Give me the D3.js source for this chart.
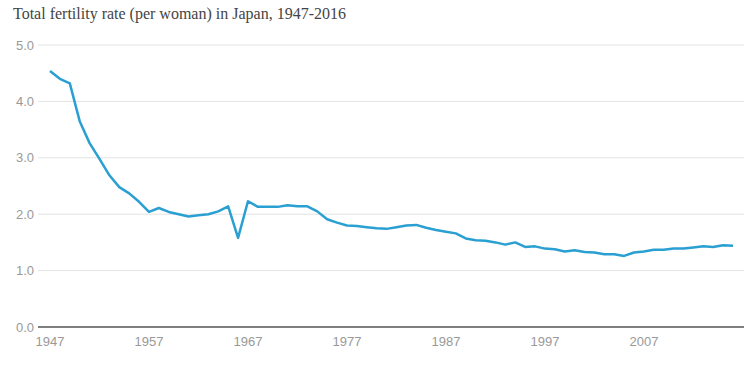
<!DOCTYPE html>
<html>
<head>
<meta charset="utf-8">
<script src="https://cdn.jsdelivr.net/npm/d3@7"></script>
<style>
    body { margin: 0; background: #fff; }
    .title { font-family: "Liberation Serif", "Times New Roman", serif; font-size: 16px; fill: #444; }
    .axis text { font-family: "Liberation Sans", Arial, sans-serif; font-size: 13px; fill: #999; }
</style>
</head>
<body>
<div id="chart"></div>
<script>
// data
let years = d3.range(1947, 2017);
let tfr = [4.54, 4.40, 4.32, 3.65, 3.26, 2.98, 2.69, 2.48, 2.37, 2.22,
    2.04, 2.11, 2.04, 2.00, 1.96, 1.98, 2.00, 2.05, 2.14, 1.58,
    2.23, 2.13, 2.13, 2.13, 2.16, 2.14, 2.14, 2.05, 1.91, 1.85,
    1.80, 1.79, 1.77, 1.75, 1.74, 1.77, 1.80, 1.81, 1.76, 1.72,
    1.69, 1.66, 1.57, 1.54, 1.53, 1.50, 1.46, 1.50, 1.42, 1.43,
    1.39, 1.38, 1.34, 1.36, 1.33, 1.32, 1.29, 1.29, 1.26, 1.32,
    1.34, 1.37, 1.37, 1.39, 1.39, 1.41, 1.43, 1.42, 1.45, 1.44];
let yTicks = [0, 1, 2, 3, 4, 5];
let xTicks = [1947, 1957, 1967, 1977, 1987, 1997, 2007];

let data = years.map((y, i) => ({year: y, value: tfr[i]}));

let width = 750, height = 368;

let svg = d3.select("#chart").append("svg")
    .attr("width", width)
    .attr("height", height);

svg.append("text")
    .attr("class", "title")
    .attr("x", 13)
    .attr("y", 19)
    .text("Total fertility rate (per woman) in Japan, 1947-2016");

// scales
let x = d3.scaleLinear()
    .domain([1947, 2016])
    .range([50, 733]);

let y = d3.scaleLinear()
    .domain([0, 5])
    .range([327, 45]);

// gridlines + y labels
let yAxis = svg.append("g").attr("class", "axis");

yAxis.selectAll(".grid")
    .data(yTicks.filter(d => d > 0))
    .enter()
    .append("line")
    .attr("class", "grid")
    .attr("x1", 38)
    .attr("x2", 744)
    .attr("y1", d => y(d))
    .attr("y2", d => y(d))
    .attr("stroke", "#e3e3e3")
    .attr("stroke-width", 1);

yAxis.selectAll(".ylab")
    .data(yTicks)
    .enter()
    .append("text")
    .attr("class", "ylab")
    .attr("x", 34)
    .attr("y", d => y(d))
    .attr("dy", "0.35em")
    .attr("text-anchor", "end")
    .text(d => d3.format(".1f")(d));

// baseline
svg.append("line")
    .attr("x1", 38)
    .attr("x2", 744)
    .attr("y1", y(0))
    .attr("y2", y(0))
    .attr("stroke", "#555")
    .attr("stroke-width", 1.5);

// x labels
let xAxis = svg.append("g").attr("class", "axis");
xAxis.selectAll(".xlab")
    .data(xTicks)
    .enter()
    .append("text")
    .attr("class", "xlab")
    .attr("x", d => x(d))
    .attr("y", 346)
    .attr("text-anchor", "middle")
    .text(d => d);

// line
let line = d3.line()
    .x(d => x(d.year))
    .y(d => y(d.value));

svg.append("path")
    .datum(data)
    .attr("d", line)
    .attr("fill", "none")
    .attr("stroke", "#2a9fd2")
    .attr("stroke-width", 2.5)
    .attr("stroke-linejoin", "round");
</script>
</body>
</html>
